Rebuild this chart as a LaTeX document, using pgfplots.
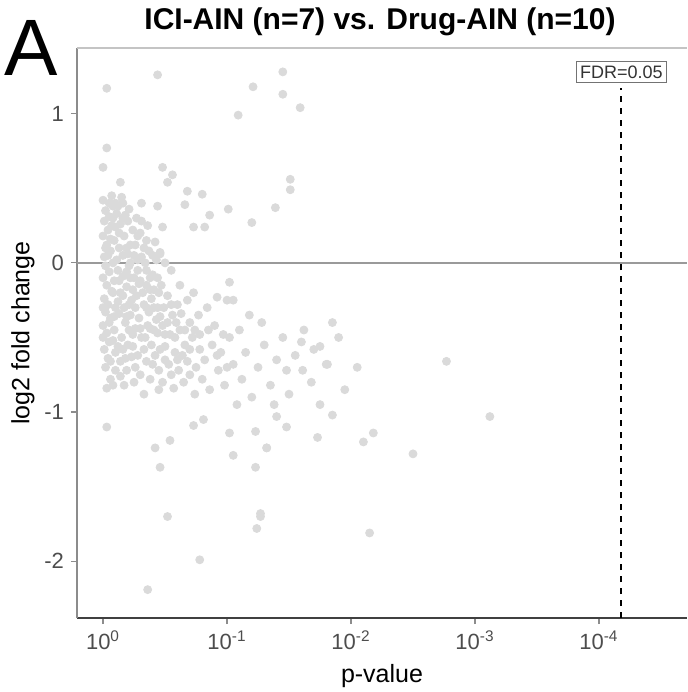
\documentclass[border=0pt]{standalone}
\usepackage{fontspec}
\setmainfont{Liberation Sans}
\usepackage{pgfplots}
\pgfplotsset{compat=1.18}
\usepackage{pgfplotstable}
\definecolor{ptgray}{HTML}{DADADA}
\definecolor{ticktext}{HTML}{4D4D4D}
\definecolor{zeroline}{HTML}{9A9A9A}
\definecolor{topline}{HTML}{C4C4C4}

% -log10(p), log2 fold change
\pgfplotstableread{
x y
0.00 0.42
0.02 0.35
0.05 0.40
0.01 0.28
0.04 0.22
0.00 0.18
0.03 0.12
0.06 0.08
0.01 0.04
0.02 -0.02
0.05 -0.06
0.00 -0.10
0.03 -0.15
0.07 -0.19
0.01 -0.24
0.04 -0.28
0.02 -0.33
0.06 -0.37
0.00 -0.42
0.03 -0.47
0.05 -0.53
0.01 -0.58
0.04 -0.64
0.02 -0.70
0.06 -0.78
0.03 -0.84
0.08 0.30
0.09 0.15
0.08 0.00
0.09 -0.12
0.10 -0.30
0.09 -0.45
0.10 -0.60
0.12 0.38
0.15 0.44
0.14 0.26
0.18 0.32
0.13 0.10
0.17 0.18
0.20 0.06
0.12 -0.05
0.16 -0.09
0.21 -0.02
0.14 -0.20
0.19 -0.16
0.23 -0.25
0.13 -0.34
0.18 -0.40
0.22 -0.35
0.15 -0.50
0.20 -0.55
0.24 -0.48
0.14 -0.66
0.19 -0.72
0.23 -0.63
0.17 -0.82
0.24 0.22
0.22 0.12
0.25 -0.10
0.27 0.30
0.30 0.20
0.33 0.10
0.28 0.02
0.35 -0.05
0.30 -0.12
0.38 -0.18
0.27 -0.22
0.33 -0.28
0.41 -0.30
0.29 -0.37
0.36 -0.42
0.43 -0.38
0.31 -0.50
0.39 -0.55
0.44 -0.47
0.28 -0.62
0.35 -0.66
0.42 -0.62
0.30 -0.75
0.38 -0.78
0.45 -0.72
0.33 -0.88
0.40 0.05
0.44 -0.10
0.36 0.25
0.42 0.14
0.47 -0.15
0.52 -0.22
0.49 -0.30
0.56 -0.35
0.60 -0.28
0.48 -0.42
0.54 -0.48
0.62 -0.45
0.50 -0.56
0.58 -0.60
0.66 -0.55
0.53 -0.68
0.61 -0.72
0.68 -0.66
0.48 -0.80
0.57 -0.84
0.65 -0.80
0.70 -0.40
0.55 -0.05
0.62 -0.15
0.68 -0.25
0.50 0.00
0.72 -0.50
0.78 -0.58
0.75 -0.70
0.82 -0.65
0.88 -0.55
0.80 -0.78
0.86 -0.85
0.93 -0.72
0.74 -0.88
0.90 -0.42
0.95 -0.60
0.98 -0.82
0.77 -0.35
0.84 -0.30
0.73 -0.20
1.02 -0.50
1.05 -0.68
1.10 -0.45
1.12 -0.78
1.15 -0.60
1.20 -0.90
1.25 -0.70
1.30 -0.55
1.08 -0.95
1.35 -0.82
1.40 -0.65
1.45 -0.50
1.18 -0.35
1.28 -0.40
1.50 -0.88
1.05 -0.25
1.38 -0.95
1.55 -0.62
1.62 -0.45
1.70 -0.58
1.68 -0.80
1.80 -0.68
1.75 -0.95
1.90 -0.50
1.95 -0.85
2.05 -0.70
1.85 -1.02
0.05 0.31
0.10 0.24
0.16 0.05
0.07 0.45
0.11 0.02
0.19 -0.06
0.26 0.12
0.31 0.04
0.24 -0.18
0.35 -0.15
0.12 -0.26
0.08 -0.20
0.20 0.28
0.28 -0.05
0.39 -0.24
0.45 -0.20
0.17 -0.30
0.06 0.16
0.11 0.33
0.26 -0.44
0.21 -0.28
0.33 -0.58
0.41 -0.45
0.37 -0.33
0.46 -0.58
0.52 -0.40
0.58 -0.50
0.64 -0.62
0.26 -0.70
0.10 -0.72
0.08 -0.52
0.16 -0.58
0.21 -0.45
0.46 0.06
0.04 0.05
0.07 0.25
0.10 0.40
0.13 0.20
0.16 0.30
0.19 0.10
0.22 0.00
0.25 0.05
0.28 0.18
0.31 0.28
0.34 0.00
0.37 0.08
0.40 -0.08
0.43 0.02
0.05 -0.40
0.09 -0.36
0.13 -0.12
0.16 -0.22
0.19 -0.36
0.22 -0.10
0.26 -0.30
0.29 -0.14
0.32 -0.20
0.35 -0.30
0.38 -0.10
0.41 -0.18
0.44 -0.30
0.06 -0.66
0.12 -0.56
0.18 -0.64
0.24 -0.56
0.30 -0.44
0.34 -0.50
0.38 -0.44
0.40 -0.68
0.46 -0.36
0.50 -0.48
0.55 -0.28
0.59 -0.40
0.63 -0.34
0.66 -0.45
0.70 -0.58
0.74 -0.45
0.78 -0.48
0.85 -0.45
0.60 -0.65
0.55 -0.75
0.70 -0.75
0.50 -0.65
0.45 -0.85
0.25 -0.80
0.14 -0.76
0.08 -0.82
0.92 -0.62
1.00 -0.70
0.97 -0.48
0.16 0.40
0.21 0.36
0.08 0.38
0.02 0.10
0.00 -0.30
0.00 -0.50
0.03 1.17
0.44 1.26
1.45 1.28
1.21 1.18
1.45 1.13
1.59 1.04
1.09 0.99
0.03 0.77
0.00 0.64
0.14 0.54
0.48 0.64
0.56 0.59
0.52 0.54
0.68 0.48
0.80 0.46
0.66 0.39
0.86 0.32
1.01 0.36
0.73 0.24
0.82 0.24
0.44 0.38
0.31 0.40
1.20 0.27
1.39 0.37
1.51 0.56
1.51 0.49
0.48 0.24
0.35 0.15
0.46 0.07
1.02 -0.13
0.92 -0.23
1.00 -0.25
0.03 -1.10
0.42 -1.24
0.46 -1.37
0.52 -1.70
0.78 -1.99
0.36 -2.19
1.24 -1.78
1.27 -1.70
2.15 -1.81
1.05 -1.29
1.23 -1.37
1.23 -1.13
1.32 -1.24
1.48 -1.10
1.73 -1.17
1.85 -0.40
2.18 -1.14
1.02 -1.14
0.73 -1.09
0.81 -1.05
0.54 -1.19
1.48 -0.72
1.61 -0.72
1.81 -0.68
1.40 -1.03
1.75 -0.56
1.60 -0.53
2.10 -1.20
2.50 -1.28
3.12 -1.03
2.77 -0.66
1.27 -1.68
1.32 -1.24
}\pts

\begin{document}
\begin{tikzpicture}
\path[use as bounding box] (-38.5pt,-37pt) rectangle (305pt,309pt);
\begin{axis}[
  scale only axis,
  width=305pt, height=285pt,
  at={(0pt,0pt)}, anchor=south west,
  xmin=-0.21, xmax=4.71,
  ymin=-2.38, ymax=1.44,
  axis x line*=bottom, axis y line*=left,
  x axis line style={-, draw=black!75, line width=0.8pt},
  y axis line style={-, draw=black!45, line width=0.8pt},
  xtick={0,1,2,3,4},
  xticklabels={10\textsuperscript{0},10\textsuperscript{-1},10\textsuperscript{-2},10\textsuperscript{-3},10\textsuperscript{-4}},
  ytick={-2,-1,0,1},
  yticklabels={-2,-1,0,1},
  tick align=outside,
  major tick length=3pt,
  tick style={draw=black!45, line width=0.6pt},
  minor tick num=0,
  ticklabel style={font=\fontsize{11}{13}\selectfont, text=ticktext},
  xlabel={p-value},
  ylabel={log2 fold change},
  label style={font=\fontsize{12.5}{15}\selectfont},
  xlabel style={at={(axis description cs:0.5,0)}, anchor=center, yshift=-29pt},
  ylabel style={at={(axis description cs:0,0.5)}, anchor=center, rotate=0, yshift=27pt},
  clip=true,
]
\addplot[only marks, mark=*, color=ptgray, mark size=2pt,
  mark options={draw=ptgray, fill=ptgray}] table[x=x, y=y] {\pts};
\draw[zeroline, line width=1pt] (axis cs:-0.21,0) -- (axis cs:4.71,0);
\draw[black, dashed, line width=0.8pt] (axis cs:4.18,-2.38) -- (axis cs:4.18,1.17);
\node[draw=black!55, fill=white, line width=0.5pt, inner sep=2pt,
  font=\fontsize{9}{10}\selectfont, text=black!80] at (axis cs:4.18,1.28) {FDR=0.05};
\draw[topline, line width=1pt] (rel axis cs:0,1) -- (rel axis cs:1,1);
\end{axis}
\node[font=\bfseries\fontsize{15}{18}\selectfont] at (151.5pt,298pt) {ICI-AIN (n=7) vs. Drug-AIN (n=10)};
\node[font=\fontsize{40}{44}\selectfont, anchor=base west, inner sep=0pt] at (-36.5pt,271pt) {A};
\end{tikzpicture}
\end{document}
